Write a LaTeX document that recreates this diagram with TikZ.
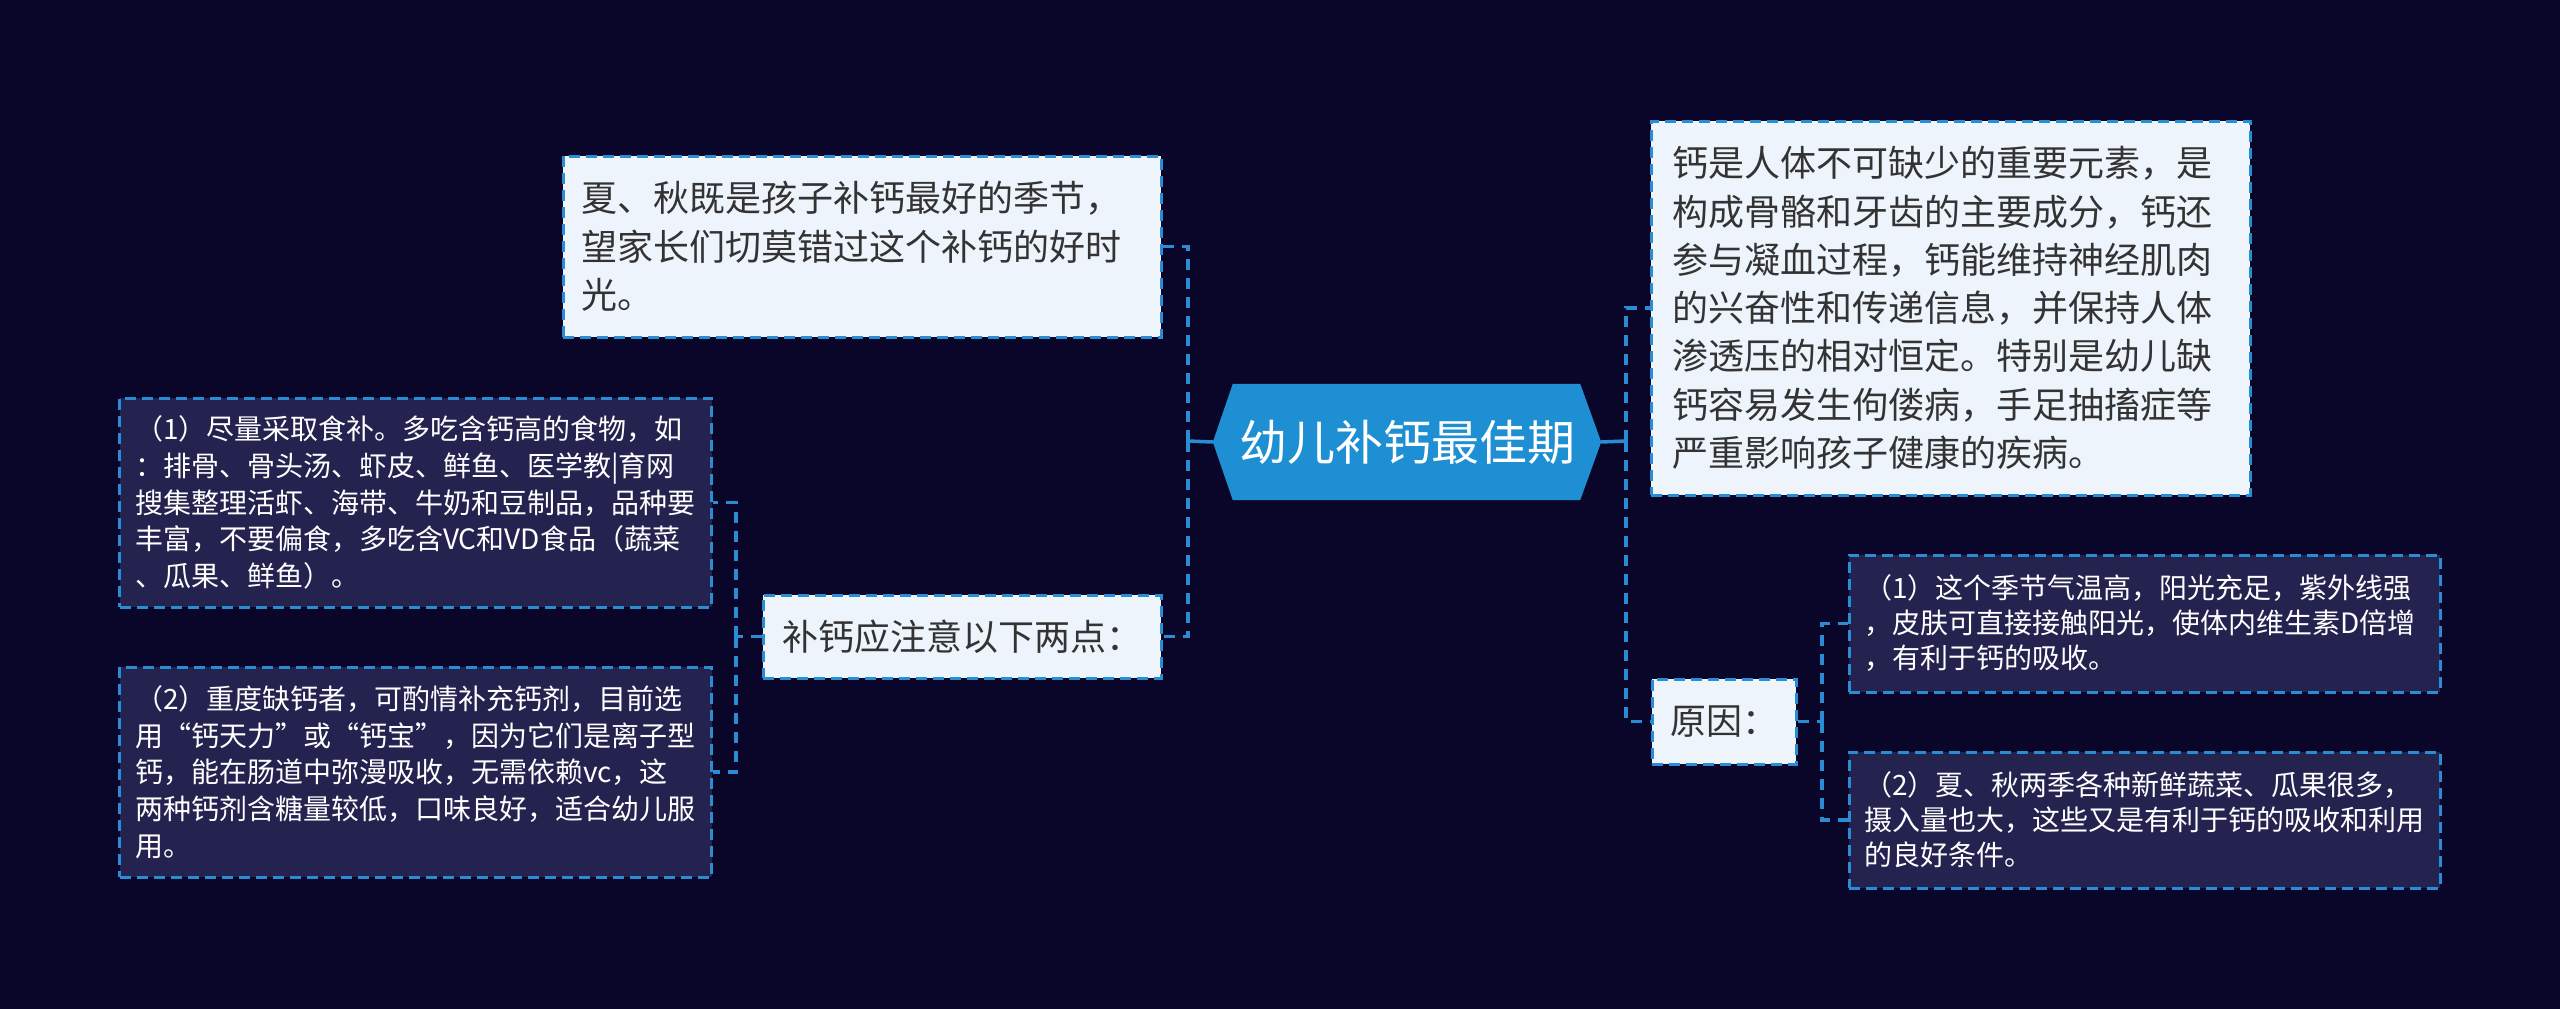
\documentclass[tikz,border=0pt]{standalone}
\usepackage{fontspec}
\setmainfont{Noto Sans CJK SC}
\usetikzlibrary{backgrounds}
\definecolor{bgc}{HTML}{0A0629}
\definecolor{linec}{HTML}{2A8DD4}
\definecolor{lightf}{HTML}{EEF4FC}
\definecolor{darkf}{HTML}{24234F}
\definecolor{darkt}{HTML}{333333}
\definecolor{rootf}{HTML}{1E8FD2}
\tikzset{
  conn/.style={draw=linec, line width=3.5pt, dash pattern=on 11pt off 8pt},
  solidconn/.style={draw=linec, line width=3.5pt},
  boxbase/.style={draw=linec, line width=3pt, dash pattern=on 11pt off 6pt,
    align=left, anchor=center, inner ysep=0pt},
  lightbox/.style={boxbase, fill=lightf, text=darkt},
  darkbox/.style={boxbase, fill=darkf, text=white},
  bigtext/.style={font=\fontsize{36pt}{48.5pt}\selectfont},
  smalltext/.style={font=\fontsize{28pt}{36.7pt}\selectfont},
  rootbox/.style={text=white, inner sep=0pt, minimum width=388pt, minimum height=116pt,
    font=\fontsize{48pt}{56pt}\selectfont}
}
\begin{document}
\begin{tikzpicture}[x=1pt,y=-1pt]
\begin{scope}[on background layer]
  \fill[bgc] (0,0) rectangle (2560,1009);
\end{scope}
\useasboundingbox (0,0) rectangle (2560,1009);

% root
\node[rootbox] (root) at (1407,442) {幼儿补钙最佳期};
\begin{scope}[on background layer]
  \fill[rootf] (root.west) -- ([xshift=20pt]root.north west) -- ([xshift=-21pt]root.north east)
    -- (root.east) -- ([xshift=-21pt]root.south east) -- ([xshift=20pt]root.south west) -- cycle;
\end{scope}

% left branch
\node[lightbox, bigtext, minimum width=598pt, minimum height=181pt, text width=562pt, inner xsep=18pt]
  (A) at (862,246.5) {夏、秋既是孩子补钙最好的季节，\\望家长们切莫错过这个补钙的好时\\光。};
\node[lightbox, bigtext, minimum width=398pt, minimum height=83pt, text width=360pt, inner xsep=19pt]
  (B) at (962,636.5) {补钙应注意以下两点：};
\node[darkbox, smalltext, minimum width=592pt, minimum height=209pt, text width=561pt, inner xsep=15.5pt]
  (C) at (415.5,502.5) {（1）尽量采取食补。多吃含钙高的食物，如\\：排骨、骨头汤、虾皮、鲜鱼、医学教|育网\\搜集整理活虾、海带、牛奶和豆制品，品种要\\丰富，不要偏食，多吃含VC和VD食品（蔬菜\\、瓜果、鲜鱼）。};
\node[darkbox, smalltext, minimum width=592pt, minimum height=210pt, text width=561pt, inner xsep=15.5pt]
  (D) at (415.5,772) {（2）重度缺钙者，可酌情补充钙剂，目前选\\用“钙天力”或“钙宝”，因为它们是离子型\\钙，能在肠道中弥漫吸收，无需依赖vc，这\\两种钙剂含糖量较低，口味良好，适合幼儿服\\用。};

% right branch
\node[lightbox, font=\fontsize{36pt}{48.3pt}\selectfont, minimum width=599pt, minimum height=374pt, text width=557pt, inner xsep=21pt]
  (E) at (1950.5,308) {钙是人体不可缺少的重要元素，是\\构成骨骼和牙齿的主要成分，钙还\\参与凝血过程，钙能维持神经肌肉\\的兴奋性和传递信息，并保持人体\\渗透压的相对恒定。特别是幼儿缺\\钙容易发生佝偻病，手足抽搐症等\\严重影响孩子健康的疾病。};
\node[lightbox, bigtext, minimum width=144pt, minimum height=85pt, text width=108pt, inner xsep=18pt]
  (F) at (1724,721.5) {原因：};
\node[darkbox, font=\fontsize{28pt}{35pt}\selectfont, minimum width=591pt, minimum height=137pt, text width=561pt, inner xsep=15pt]
  (G) at (2144.5,623.5) {（1）这个季节气温高，阳光充足，紫外线强\\，皮肤可直接接触阳光，使体内维生素D倍增\\，有利于钙的吸收。};
\node[darkbox, font=\fontsize{28pt}{35pt}\selectfont, minimum width=591pt, minimum height=136pt, text width=561pt, inner xsep=15pt]
  (H) at (2144.5,820) {（2）夏、秋两季各种新鲜蔬菜、瓜果很多，\\摄入量也大，这些又是有利于钙的吸收和利用\\的良好条件。};

% junctions
\coordinate (jl) at (1188,441);
\coordinate (jb) at (736,636.5);
\coordinate (jr) at (1626,441);
\coordinate (jf) at (1822,721.5);

% connectors
\draw[solidconn] (root.west) -- (jl);
\draw[conn] (jl) |- (A.east);
\draw[conn] (jl) |- (B.east);
\draw[conn] (B.west) -- (jb);
\draw[conn] (jb) |- (C.east);
\draw[conn] (jb) |- (D.east);
\draw[solidconn] (root.east) -- (jr);
\draw[conn] (jr) |- (E.west);
\draw[conn] (jr) |- (F.west);
\draw[conn] (F.east) -- (jf);
\draw[conn] (jf) |- (G.west);
\draw[conn] (jf) |- (H.west);
\end{tikzpicture}
\end{document}
